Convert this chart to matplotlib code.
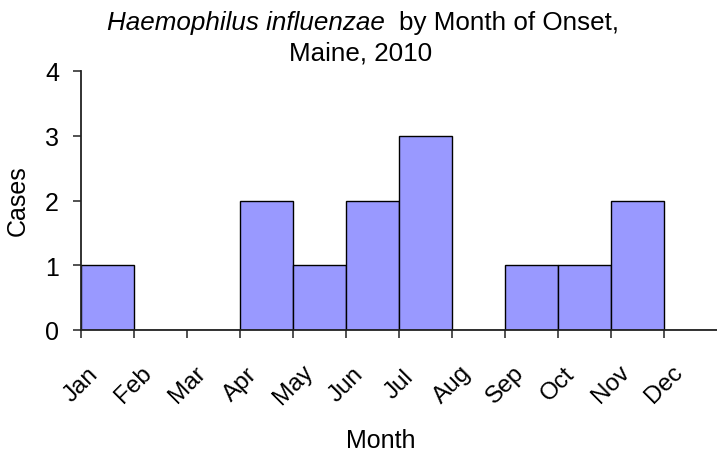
import matplotlib
matplotlib.use("Agg")
import matplotlib.pyplot as plt

months = ["Jan", "Feb", "Mar", "Apr", "May", "Jun", "Jul", "Aug", "Sep", "Oct", "Nov", "Dec"]
cases = [1, 0, 0, 2, 1, 2, 3, 0, 1, 1, 2, 0]
yticks = [0, 1, 2, 3, 4]

plt.rcParams['font.family'] = ['Liberation Sans', 'DejaVu Sans']

W, H = 717, 456
fig = plt.figure(figsize=(W / 100, H / 100), dpi=100)
ax = fig.add_axes([81 / W, (H - 331) / H, (717 - 81) / W, (331 - 72) / H])

x = list(range(len(months)))
ax.bar(x, cases, width=1.0, align='edge', color='#9999FF', edgecolor='black', linewidth=1.0, zorder=2)

ax.set_xlim(0, 12)
ax.set_ylim(0, 4)
ax.set_xticks(x)
ax.set_xticklabels(months, rotation=45, ha='center', va='center', fontsize=17.5)
ax.set_yticks(yticks)
ax.set_yticklabels([str(v) for v in yticks], fontsize=18)

for s in ['top', 'right']:
    ax.spines[s].set_visible(False)
for s in ['left', 'bottom']:
    ax.spines[s].set_linewidth(1.3)
    ax.spines[s].set_color('#222222')
    ax.spines[s].set_zorder(3)

ax.tick_params(axis='x', direction='out', length=5.8, width=1.1, pad=33, color='#222222')
ax.tick_params(axis='y', direction='out', length=5.8, width=1.1, pad=10, color='#222222')

def px(xp, yp):
    return xp / W, 1 - yp / H

fig.text(*px(385, 30), "Haemophilus influenzae", fontsize=18.7, style='italic', ha='right', va='baseline')
fig.text(*px(399, 30), "by Month of Onset,", fontsize=18.7, ha='left', va='baseline')
fig.text(*px(361, 60), "Maine, 2010", fontsize=18.7, ha='center', va='baseline')
fig.text(*px(18, 201), "Cases", fontsize=18, rotation=90, ha='center', va='center')
fig.text(*px(381, 441), "Month", fontsize=18, ha='center', va='center')

fig.savefig("out.png", dpi=100)
